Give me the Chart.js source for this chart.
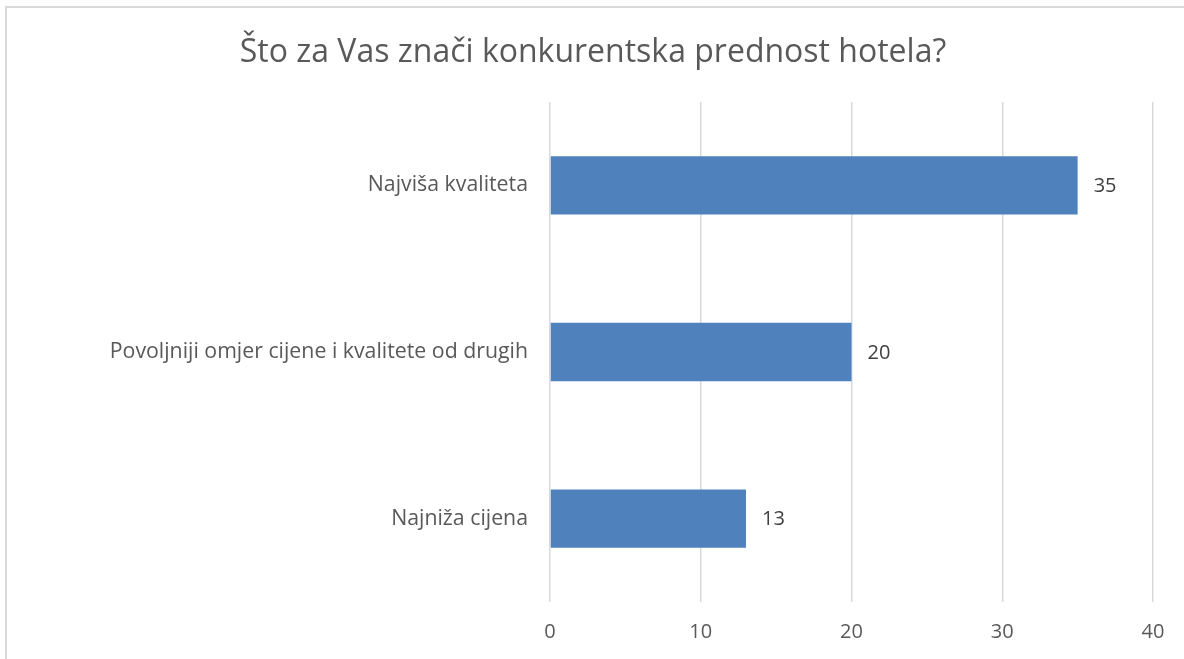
<!DOCTYPE html>
<html>
<head>
<meta charset="utf-8">
<script src="https://cdn.jsdelivr.net/npm/chart.js@4/dist/chart.umd.min.js"></script>
<style>
  html, body { margin: 0; padding: 0; background: #fff; overflow: hidden; }
  #frame { position: absolute; left: 5px; top: 6px; width: 1200px; height: 700px; border: 2px solid #d9d9d9; box-sizing: border-box; }
  #wrap { position: absolute; left: 0; top: 0; width: 1184px; height: 659px; }
</style>
</head>
<body>
<div id="frame"></div>
<div id="wrap"><canvas id="c"></canvas></div>
<script>
// data
const categories = ['Najviša kvaliteta', 'Povoljniji omjer cijene i kvalitete od drugih', 'Najniža cijena'];
const values = [35, 20, 13];
const xTicks = [0, 10, 20, 30, 40];

const FONT = 'Open Sans';

// value labels at bar ends
const barLabels = {
    id: 'barLabels',
    afterDatasetsDraw(chart) {
        const { ctx } = chart;
        const meta = chart.getDatasetMeta(0);
        ctx.save();
        ctx.font = '20px "' + FONT + '"';
        ctx.fillStyle = '#404040';
        ctx.textAlign = 'left';
        ctx.textBaseline = 'middle';
        meta.data.forEach((bar, i) => {
            ctx.fillText(String(values[i]), bar.x + 16, bar.y + 1);
        });
        ctx.restore();
    }
};

new Chart(document.getElementById('c'), {
    type: 'bar',
    data: {
        labels: categories,
        datasets: [{
            data: values,
            backgroundColor: '#4f81bd',
            barPercentage: 0.35,
            categoryPercentage: 1.0,
        }]
    },
    options: {
        indexAxis: 'y',
        responsive: true,
        maintainAspectRatio: false,
        animation: false,
        layout: { padding: { left: 33, right: 31, top: 0, bottom: 0 } },
        plugins: {
            legend: { display: false },
            tooltip: { enabled: false },
            title: {
                display: true,
                text: 'Što za Vas znači konkurentska prednost hotela?',
                color: '#595959',
                font: { family: FONT, size: 32, weight: 'normal' },
                padding: { top: 34, bottom: 29.6 },
            },
        },
        scales: {
            x: {
                min: 0, max: 40,
                afterBuildTicks(scale) { scale.ticks = xTicks.map(v => ({ value: v })); },
                afterFit(scale) { scale.height = 57; },
                grid: { color: '#d9d9d9', lineWidth: 1.5, drawTicks: false },
                border: { display: false },
                ticks: { color: '#595959', padding: 18, font: { family: FONT, size: 20 } },
            },
            y: {
                afterFit(scale) { scale.width = 517; },
                grid: { display: false, drawTicks: false },
                border: { display: false },
                ticks: { color: '#595959', padding: 22, font: { family: FONT, size: 21.3 } },
            }
        }
    },
    plugins: [barLabels]
});
</script>
</body>
</html>
